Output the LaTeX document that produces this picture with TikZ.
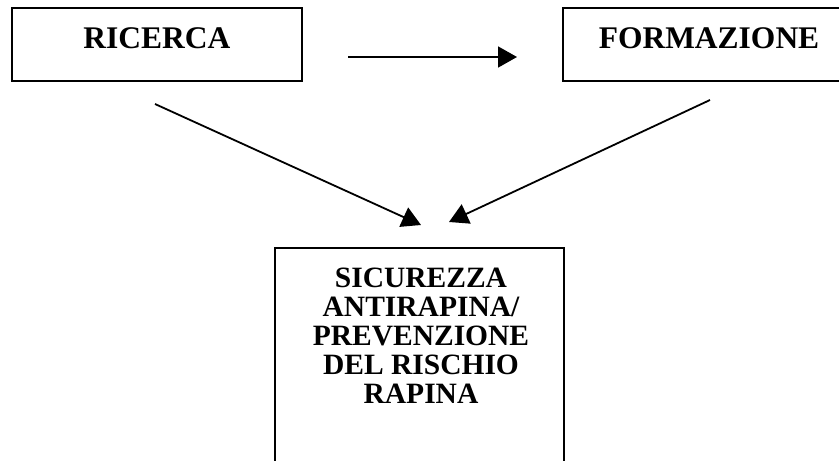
\documentclass[tikz,border=0pt]{standalone}
\usepackage{fontspec}
\setmainfont{Liberation Serif}
\usetikzlibrary{arrows.meta}
\begin{document}
\begin{tikzpicture}[x=1pt,y=-1pt,
  boxstyle/.style={draw=black, line width=2pt, rectangle, inner sep=0pt},
  toptext/.style={font=\fontsize{31.5}{36}\selectfont\bfseries, inner sep=0pt, anchor=base},
  bottext/.style={font=\fontsize{29.5}{29}\selectfont\bfseries, inner sep=0pt, align=center},
  arrowline/.style={line width=1.8pt, -{Triangle[length=19pt,width=21pt]}}]
\useasboundingbox (0,0) rectangle (839,461);
\clip (0,0) rectangle (839,461);
% boxes
\node[boxstyle, minimum width=290pt, minimum height=73pt] (ricerca) at (157,44.5) {};
\node[boxstyle, minimum width=292pt, minimum height=73pt] (formazione) at (709,44.5) {};
\node[boxstyle, minimum width=289pt, minimum height=240pt] (sicurezza) at (419.5,368) {};
% texts
\node[toptext] (tric) at (157,48) {RICERCA};
\node[toptext] (tform) at (709,48) {FORMAZIONE};
\node[bottext, anchor=north] (tsic) at (421,267.3) {SICUREZZA\\ANTIRAPINA/\\PREVENZIONE\\DEL RISCHIO\\RAPINA};
% arrow ends
\coordinate (h1) at (348,57);
\coordinate (h2) at (517,57);
\coordinate (l1) at (155,104);
\coordinate (l2) at (421,225);
\coordinate (r1) at (710,100);
\coordinate (r2) at (449,222);
\draw[arrowline] (h1) -- (h2);
\draw[arrowline] (l1) -- (l2);
\draw[arrowline] (r1) -- (r2);
\end{tikzpicture}
\end{document}
